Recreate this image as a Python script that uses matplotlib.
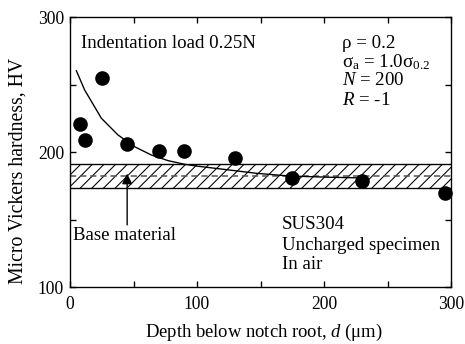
import matplotlib
matplotlib.use('Agg')
import matplotlib.pyplot as plt

plt.rcParams['font.family'] = ['Liberation Serif', 'DejaVu Serif']
plt.rcParams['mathtext.fontset'] = 'custom'
plt.rcParams['mathtext.rm'] = 'Liberation Serif'
plt.rcParams['mathtext.it'] = 'Liberation Serif:italic'
plt.rcParams['hatch.linewidth'] = 0.55

# measured hardness
depth = [8, 12, 25, 45, 70, 90, 130, 175, 230, 295]
hardness = [220.5, 209, 254.5, 206, 200.7, 200.7, 195.3, 180.7, 178.3, 170]

# trend curve
curve_d = [5, 11.5, 24.7, 37.8, 50.9, 64, 77.2, 90.3, 99.5, 120.7, 147, 173, 204.7, 230]
curve_hv = [260.2, 246, 225, 212.6, 203.9, 197.8, 193.6, 190.9, 189.6, 187.2, 184.2, 182.2, 181.3, 180.8]

# base material band
base_low = 173
base_high = 191
base_mean = 182

dpi = 140
fig = plt.figure(figsize=(465 / dpi, 344 / dpi), dpi=dpi)
ax = fig.add_axes([70 / 465, 1 - 287 / 344, 381 / 465, 270 / 344])

ax.fill_between([0, 300], base_low, base_high, facecolor='white', edgecolor='black',
                hatch='////', linewidth=0)
ax.axhline(base_low, color='black', lw=0.7)
ax.axhline(base_high, color='black', lw=0.7)
ax.axhline(base_mean, color='#555555', lw=0.8, ls=(0, (4, 2.5)))

ax.plot(curve_d, curve_hv, color='black', lw=0.7)
ax.plot(depth, hardness, 'o', color='black', markersize=6.5, clip_on=False, zorder=5)

ax.annotate('', xy=(45, 184), xytext=(45, 146),
            arrowprops=dict(arrowstyle='-|>', color='black', lw=0.7,
                            mutation_scale=11, shrinkA=0, shrinkB=0))

fs = 9.7
ax.text(9, 280.7, 'Indentation load 0.25N', fontsize=fs, va='center')
ax.text(214, 280.7, 'ρ = 0.2', fontsize=fs, va='center')
ax.text(214, 266.5, 'σ$_\\mathrm{a}$ = 1.0σ$_{0.2}$', fontsize=fs, va='center')
ax.text(214, 252.6, '$N$ = 200', fontsize=fs, va='center')
ax.text(214, 238.5, '$R$ = -1', fontsize=fs, va='center')
ax.text(2, 138.5, 'Base material', fontsize=fs, va='center')
ax.text(167, 146, 'SUS304', fontsize=fs, va='center')
ax.text(167, 131, 'Uncharged specimen', fontsize=fs, va='center')
ax.text(167, 117, 'In air', fontsize=fs, va='center')

ax.set_xlim(0, 300)
ax.set_ylim(100, 300)
ax.set_xticks([0, 100, 200, 300])
ax.set_xticks([50, 150, 250], minor=True)
ax.set_yticks([100, 200, 300])
ax.set_yticks([150, 250], minor=True)
ax.tick_params(which='both', direction='in', top=True, right=True, width=0.7,
               labelsize=9, length=3)
ax.tick_params(axis='x', pad=4.5)
ax.tick_params(axis='y', pad=3)
for s in ax.spines.values():
    s.set_linewidth(0.7)

ax.set_xlabel('Depth below notch root, $d$ (μm)', fontsize=9.6, va='center')
ax.xaxis.set_label_coords(0.508, -0.168)
ax.set_ylabel('Micro Vickers hardness, HV', fontsize=10.2, va='center')
ax.yaxis.set_label_coords(-0.136, 0.43)

fig.savefig('out.png', dpi=dpi)
